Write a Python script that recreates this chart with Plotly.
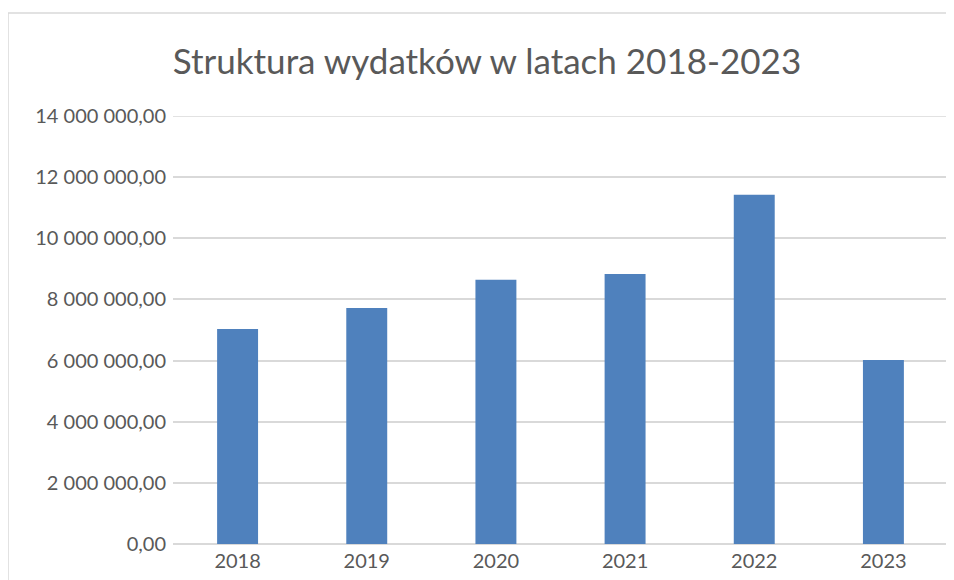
import plotly.graph_objects as go

years = ["2018", "2019", "2020", "2021", "2022", "2023"]
values = [7030000, 7720000, 8640000, 8830000, 11420000, 6020000]
y_ticks = [0, 2000000, 4000000, 6000000, 8000000, 10000000, 12000000, 14000000]

# page has an 8px body margin, so in-figure coordinates = reference - 8
OFF = 8
W, H = 954, 580
L, R, T, B = 173 - OFF, 948 - OFF, 116 - OFF, 544 - OFF

fig = go.Figure()
fig.add_trace(go.Bar(x=years, y=values, marker=dict(color="#4f81bd", line=dict(width=0)),
                     hoverinfo="x+y"))

fig.update_layout(
    width=W, height=H,
    margin=dict(l=L, r=W - R, t=T, b=H - B, pad=0),
    paper_bgcolor="white", plot_bgcolor="white",
    separators=", ",
    font=dict(family="Lato, Carlito, sans-serif", color="#595959", size=20),
    title=dict(text="Struktura wydatków w latach 2018-2023", x=(487 - OFF) / W, xref="container",
               xanchor="center", y=1 - (62 - OFF) / H, yref="container", yanchor="middle",
               font=dict(size=35, color="#595959", family="Lato, Carlito, sans-serif")),
    bargap=0.683,
    showlegend=False,
    xaxis=dict(type="category", showgrid=False, showline=False, ticks="",
               ticklabelstandoff=3,
               tickfont=dict(size=20, color="#595959")),
    yaxis=dict(range=[0, y_ticks[-1]], tickvals=y_ticks, tickformat=",.2f",
               showgrid=True, gridcolor="#d9d9d9", gridwidth=1.5,
               zeroline=True, zerolinecolor="#d9d9d9", zerolinewidth=1.5,
               showline=False, ticks="", ticklabelstandoff=6,
               tickfont=dict(size=20, color="#595959")),
    shapes=[
        dict(type="rect", xref="paper", yref="paper",
             x0=(8 - OFF - L) / (R - L), x1=1.2,
             y0=-0.3, y1=(B - (13 - OFF)) / (B - T),
             line=dict(color="#d9d9d9", width=1.5), fillcolor="rgba(0,0,0,0)",
             layer="below"),
        # top gridline (plotly drops the grid line at the very edge of the range)
        dict(type="line", xref="paper", yref="y", x0=0, x1=1,
             y0=y_ticks[-1], y1=y_ticks[-1],
             line=dict(color="#d9d9d9", width=1.5), layer="below"),
    ],
)

fig.write_html("out.html")
